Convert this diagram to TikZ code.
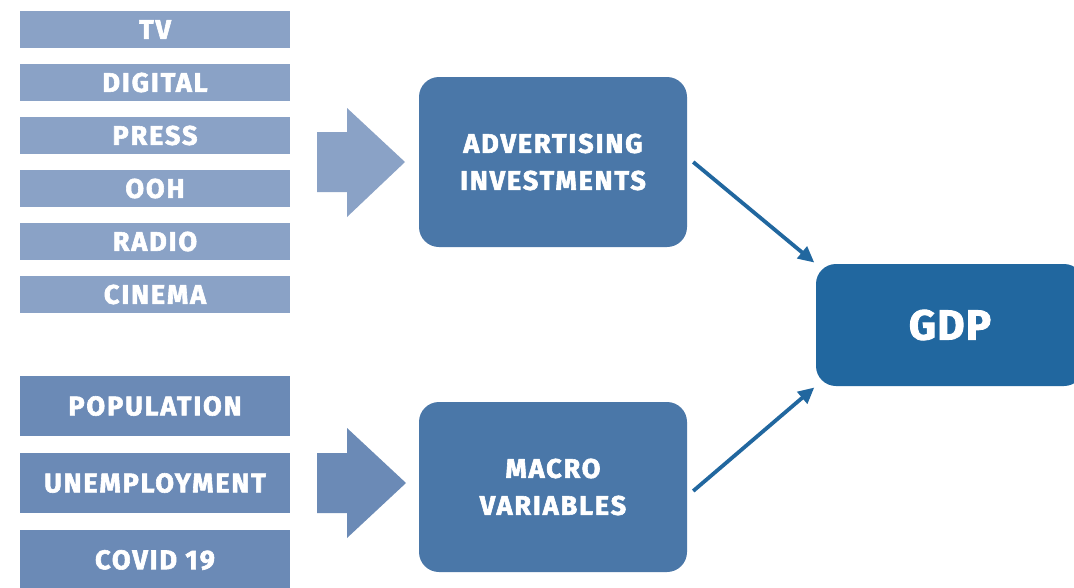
\documentclass[tikz,border=0pt]{standalone}
\usepackage{fontspec}
\setmainfont{Fira Sans}
\newfontfamily\lblfont{Fira Sans}[LetterSpace=7, BoldFeatures={FakeBold=2.2}]
\newfontfamily\gdpfont{Fira Sans}[LetterSpace=3, BoldFeatures={FakeBold=2.2}]
\usetikzlibrary{arrows.meta}
\definecolor{cmedia}{HTML}{8AA2C6}
\definecolor{cmacro}{HTML}{6B8AB6}
\definecolor{cmid}{HTML}{4A77A8}
\definecolor{cgdp}{HTML}{21679F}
\tikzset{
  lbox/.style={fill=#1, draw=none, minimum width=270pt, text=white, font=\lblfont\fontsize{27}{30}\selectfont\bfseries, inner sep=0pt},
  mbox/.style={fill=cmid, draw=none, rounded corners=20pt, minimum width=268pt, minimum height=170pt, text=white, align=center, font=\lblfont\fontsize{27}{37}\selectfont\bfseries, inner sep=0pt},
  bigarrow/.style={fill=#1, draw=none},
  link/.style={draw=cgdp, line width=3.8pt, -{Triangle[length=16pt,width=15pt]}, shorten >=2pt}
}
\begin{document}
\begin{tikzpicture}[x=1pt,y=-1pt]
\clip (0,0) rectangle (1074,587);
\fill[white] (0,0) rectangle (1074,587);
% media boxes
\node[lbox=cmedia, minimum height=37pt] (tv) at (155,29.5) {TV};
\node[lbox=cmedia, minimum height=37pt] (digital) at (155,82.5) {DIGITAL};
\node[lbox=cmedia, minimum height=37pt] (press) at (155,135.5) {PRESS};
\node[lbox=cmedia, minimum height=37pt] (ooh) at (155,188.5) {OOH};
\node[lbox=cmedia, minimum height=37pt] (radio) at (155,241.5) {RADIO};
\node[lbox=cmedia, minimum height=37pt] (cinema) at (155,294.5) {CINEMA};
% macro boxes
\node[lbox=cmacro, minimum height=60pt] (pop) at (155,406) {POPULATION};
\node[lbox=cmacro, minimum height=60pt] (unemp) at (155,483) {UNEMPLOYMENT};
\node[lbox=cmacro, minimum height=60pt] (covid) at (155,560) {COVID 19};
% block arrows
\fill[bigarrow=cmedia] (317,132) -- (347,132) -- (347,108) -- (405,162) -- (347,217) -- (347,192) -- (317,192) -- cycle;
\fill[bigarrow=cmacro] (317,453) -- (347,453) -- (347,428) -- (406,483) -- (347,538) -- (347,513) -- (317,513) -- cycle;
% middle boxes
\node[mbox] (adv) at (553,162) {ADVERTISING\\INVESTMENTS};
\node[mbox] (macro) at (553,487) {MACRO\\VARIABLES};
% GDP
\node[mbox, fill=cgdp, minimum height=122pt, font=\gdpfont\fontsize{42}{46}\selectfont\bfseries] (gdp) at (950,325) {GDP};
% connectors
\draw[link] ([xshift=6pt]adv.east) -- (gdp.north west);
\draw[link] ([xshift=6pt,yshift=-4pt]macro.east) -- (gdp.south west);
\end{tikzpicture}
\end{document}
